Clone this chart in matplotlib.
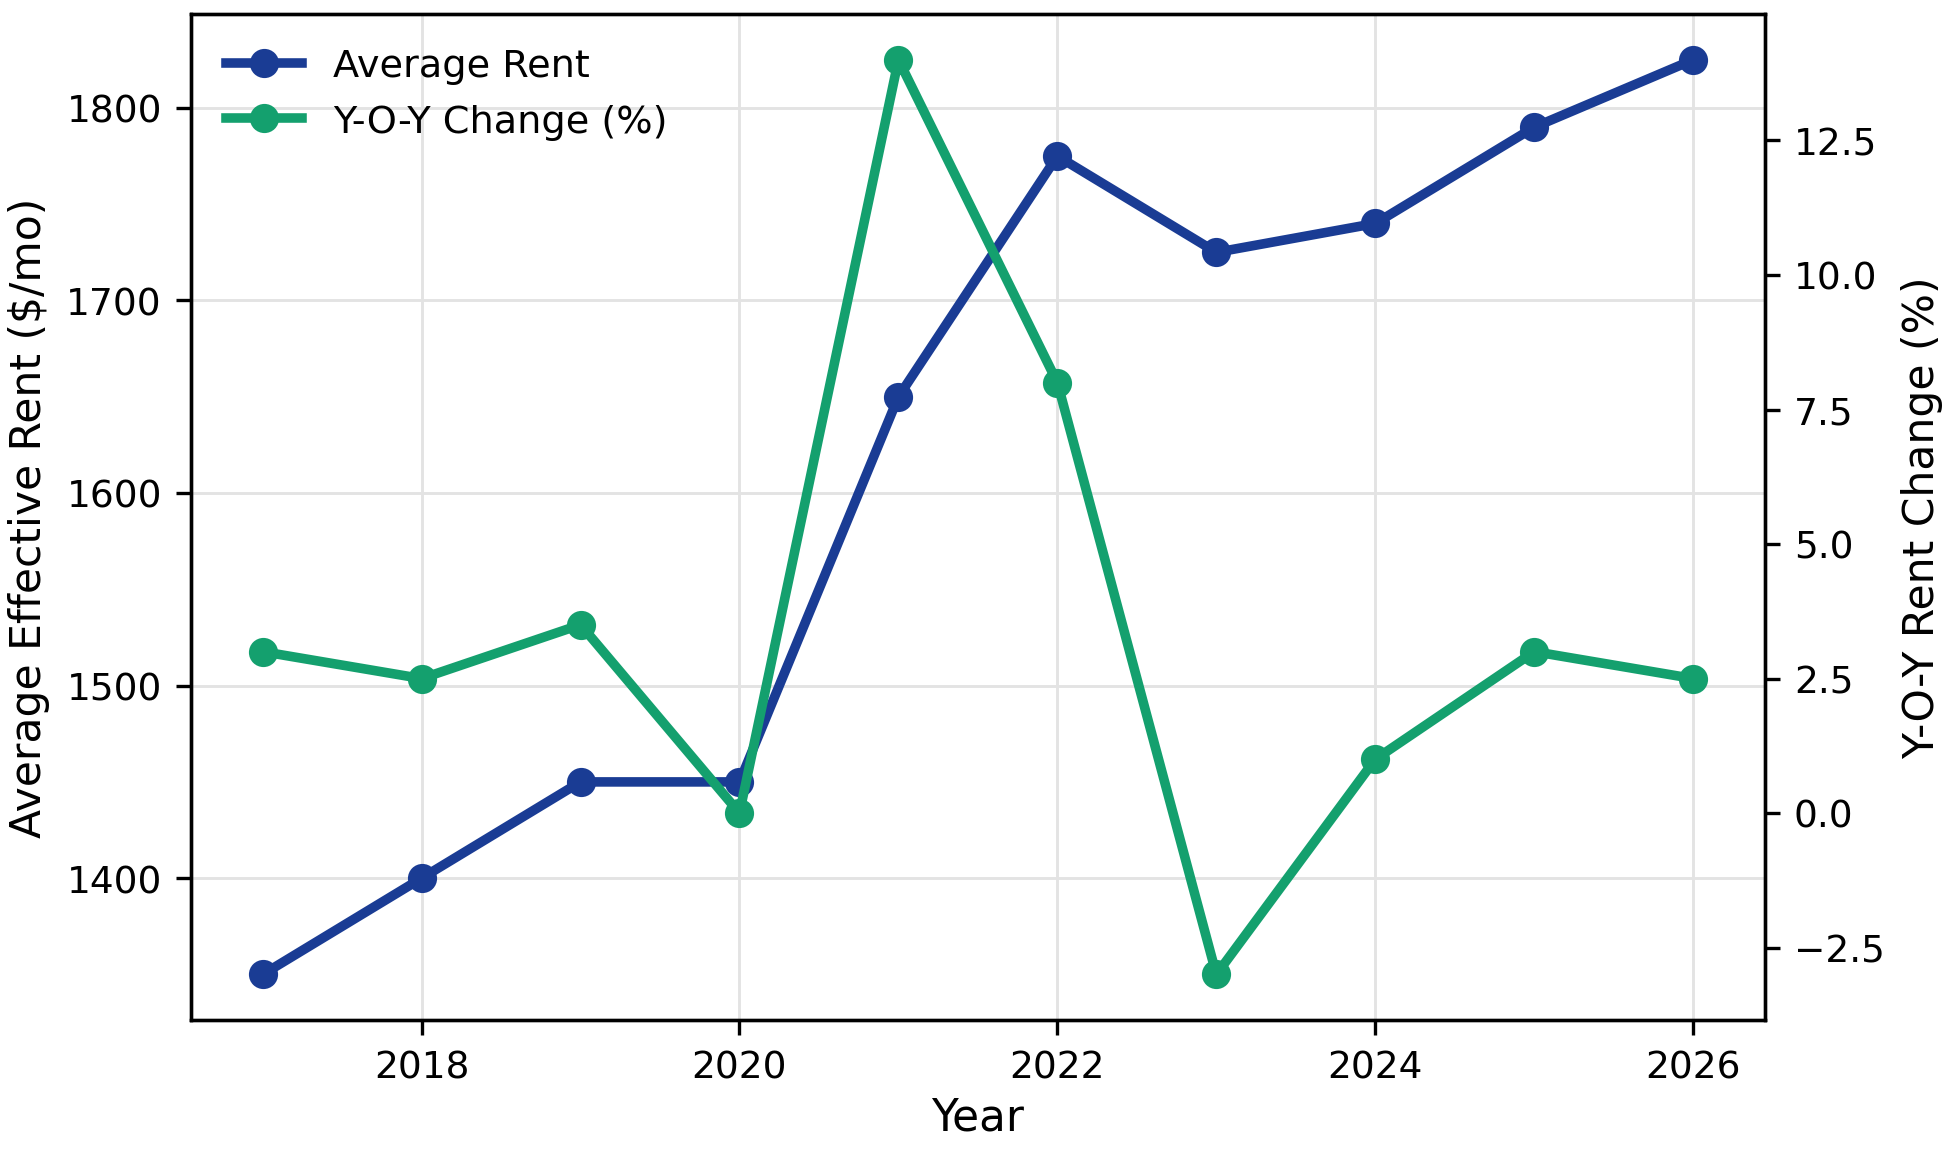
import matplotlib
matplotlib.use("Agg")
import matplotlib.pyplot as plt

years = [2017, 2018, 2019, 2020, 2021, 2022, 2023, 2024, 2025, 2026]
avg_rent = [1350, 1400, 1450, 1450, 1650, 1775, 1725, 1740, 1790, 1825]
yoy_change = [3.0, 2.5, 3.5, 0.0, 14.0, 8.0, -3.0, 1.0, 3.0, 2.5]

blue = "#1a3c94"
green = "#14a06e"

fig, ax1 = plt.subplots(figsize=(6.5, 3.833), dpi=300)
fig.subplots_adjust(left=0.098, right=0.905, top=0.987, bottom=0.112)

l1, = ax1.plot(years, avg_rent, color=blue, lw=2.3, marker="o", ms=6, label="Average Rent")
ax1.set_xlabel("Year", fontsize=10.5, labelpad=2.5)
ax1.set_ylabel("Average Effective Rent ($/mo)", fontsize=10.2)
ax1.grid(True, color="#e3e3e3", lw=0.7)
ax1.tick_params(labelsize=9)

ax2 = ax1.twinx()
l2, = ax2.plot(years, yoy_change, color=green, lw=2.3, marker="o", ms=6, label="Y-O-Y Change (%)")
ax2.set_ylabel("Y-O-Y Rent Change (%)", fontsize=10.2)
ax2.tick_params(labelsize=9)

ax1.set_xticks([2018, 2020, 2022, 2024, 2026])
ax1.legend(handles=[l1, l2], loc="upper left", frameon=False, fontsize=9.2)

fig.savefig("out.png", dpi=300)
